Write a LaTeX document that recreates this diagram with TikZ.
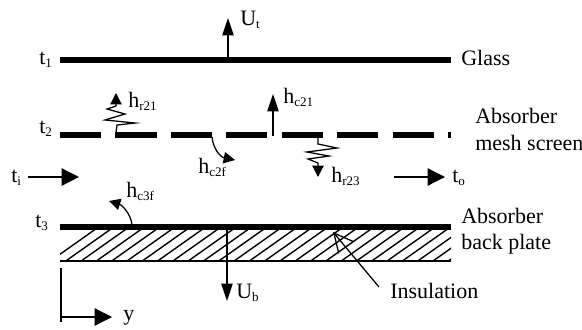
\documentclass[tikz,border=0pt]{standalone}
\usepackage{fontspec}
\setmainfont{Liberation Serif}
\usetikzlibrary{positioning,arrows.meta,calc}
\newcommand{\lowidx}[1]{\raisebox{-2.4pt}{\fontsize{9.8}{10}\selectfont #1}}

\begin{document}
\begin{tikzpicture}[
    x=0.75pt, y=-0.75pt,
    label/.style={inner sep=0pt, anchor=base west, font=\fontsize{16.5}{18}\selectfont},
    plate/.style={line width=4.5pt},
    thinline/.style={line width=0.95pt},
    arrow/.style={-{Triangle[length=13pt, width=8.5pt]}, thinline},
    flowarrow/.style={-{Triangle[length=13pt, width=13pt]}, thinline},
    smallarrow/.style={-{Triangle[length=8.5pt, width=8.5pt]}, thinline}
]
\useasboundingbox (0,0) rectangle (582,329);
% plates
\coordinate (glassL) at (60,60);
\coordinate (glassR) at (451,60);
\coordinate (meshL) at (60,135);
\coordinate (meshR) at (451,135);
\coordinate (backL) at (60,227);
\coordinate (backR) at (451,227);
\coordinate (baseL) at (60,261);
\coordinate (baseR) at (451,261);

\draw[plate] (glassL) -- (glassR);
\draw[plate, dash pattern=on 30.8pt off 10.8pt] (meshL) -- (meshR);

% hatching of the insulation
\begin{scope}
\clip (60,229) rectangle (451,261);
\foreach \i in {0,...,26} {
    \draw[line width=1.05pt] ({50.5+\i*15.3},261) -- ({98.5+\i*15.3},227);
}
\end{scope}
\draw[plate] (backL) -- (backR);
\draw[line width=1.2pt] (baseL) -- (baseR);

% labels
\node[label] (t1) at (39,64) {t\lowidx{1}};
\node[label] (t2) at (39,133) {t\lowidx{2}};
\node[label] (t3) at (35,227) {t\lowidx{3}};
\node[label] (ti) at (11,182) {t\lowidx{i}};
\node[label] (to) at (452,182) {t\lowidx{o}};
\node[label] (Ut) at (240,25) {U\lowidx{t}};
\node[label] (Ub) at (236,298) {U\lowidx{b}};
\node[label] (hr21) at (128,107) {h\lowidx{r21}};
\node[label] (hc21) at (283,103) {h\lowidx{c21}};
\node[label] (hc2f) at (198,173) {h\lowidx{c2f}};
\node[label] (hr23) at (331,182) {h\lowidx{r23}};
\node[label] (hc3f) at (126,197) {h\lowidx{c3f}};
\node[label] (glass) at (461,65) {Glass};
\node[label] (abs1) at (475,123) {Absorber};
\node[label] (abs2) at (475,150) {mesh screen};
\node[label] (abs3) at (461,223) {Absorber};
\node[label] (abs4) at (461,249) {back plate};
\node[label] (ins) at (390,298) {Insulation};
\node[label] (y) at (123,320) {y};

% arrows
\coordinate (Ut0) at (228,58);
\coordinate (Ut1) at (228,18);
\draw[arrow] (Ut0) -- (Ut1);
\coordinate (hc21a) at (273,136);
\coordinate (hc21b) at (273,94);
\draw[arrow] (hc21a) -- (hc21b);
\coordinate (Ub0) at (227,229);
\coordinate (Ub1) at (227,301);
\draw[arrow] (Ub0) -- (Ub1);
\coordinate (ti0) at (28,177);
\coordinate (ti1) at (79,177);
\draw[flowarrow] (ti0) -- (ti1);
\coordinate (to0) at (394,177);
\coordinate (to1) at (445,177);
\draw[flowarrow] (to0) -- (to1);

% axes
\coordinate (ax0) at (61,268);
\coordinate (ax1) at (61,322);
\coordinate (ax2) at (61,317);
\coordinate (ax3) at (112,317);
\draw[thinline] (ax0) -- (ax1);
\draw[flowarrow] (ax2) -- (ax3);

% curved arrows
\coordinate (c2f0) at (212,137);
\coordinate (c2f1) at (235,160);
\draw[smallarrow] (c2f0) .. controls (213,148) and (220,157) .. (c2f1);
\coordinate (c3f0) at (132,225);
\coordinate (c3f1) at (109,201);
\draw[smallarrow] (c3f0) .. controls (131,214) and (122,205) .. (c3f1);

% radiation zigzags
\coordinate (r21a) at (116,133);
\coordinate (r21b) at (116,93);
\draw[smallarrow] (r21a) -- (117,125) -- (135,123) -- (105,120) -- (125,114) -- (107,109) -- (116,106) -- (r21b);
\coordinate (r23a) at (318,138);
\coordinate (r23b) at (318,177);
\draw[smallarrow] (r23a) -- (318,144) -- (337,148) -- (307,152) -- (329,156) -- (308,159) -- (318,163) -- (r23b);

% insulation pointer
\coordinate (ins0) at (379,287);
\coordinate (ins1) at (333,232);
\draw[thinline, -{Straight Barb[length=14pt, width=14pt]}] (ins0) -- (ins1);
\end{tikzpicture}
\end{document}
